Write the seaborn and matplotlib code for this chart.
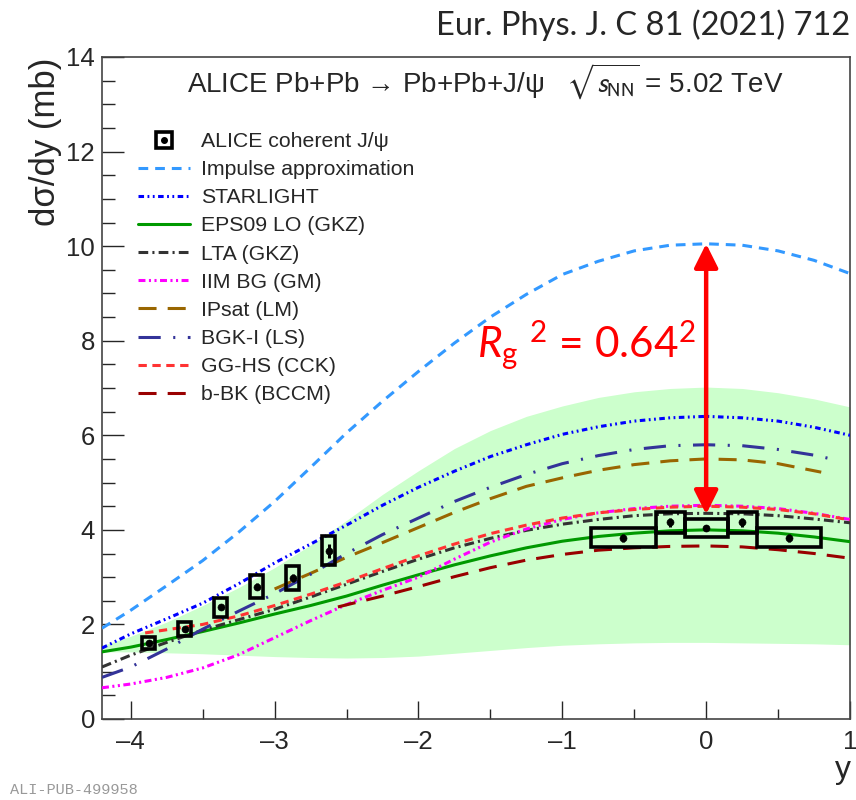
import numpy as np
import pandas as pd
import matplotlib
matplotlib.use("Agg")
import matplotlib.pyplot as plt
import seaborn as sns
from matplotlib.lines import Line2D
from matplotlib.patches import Rectangle
from matplotlib.ticker import MultipleLocator

# ---------------- data ----------------
Q = [-4.2, -4.0, -3.75, -3.5, -3.25, -3.0, -2.75, -2.5, -2.25, -2.0, -1.75,
     -1.5, -1.25, -1.0, -0.75, -0.5, -0.25, 0.0, 0.25, 0.5, 0.75, 1.0]
band_x = Q
band_lo = [1.42, 1.42, 1.40, 1.38, 1.35, 1.32, 1.30, 1.29, 1.30, 1.33, 1.39,
           1.45, 1.51, 1.56, 1.59, 1.61, 1.62, 1.62, 1.61, 1.60, 1.59, 1.57]
band_hi = [1.55, 1.75, 2.05, 2.40, 2.78, 3.20, 3.68, 4.20, 4.75, 5.25, 5.72,
           6.10, 6.40, 6.62, 6.80, 6.92, 6.99, 7.02, 6.99, 6.90, 6.77, 6.60]

impulse_x = Q
impulse_y = [1.92, 2.30, 2.82, 3.35, 3.95, 4.60, 5.32, 6.05, 6.72, 7.35, 7.95,
             8.50, 8.98, 9.40, 9.68, 9.90, 10.02, 10.05, 10.02, 9.90, 9.70, 9.42]
starlight_x = Q
starlight_y = [1.50, 1.80, 2.12, 2.45, 2.86, 3.30, 3.70, 4.10, 4.52, 4.90, 5.24,
               5.55, 5.80, 6.02, 6.18, 6.30, 6.37, 6.40, 6.37, 6.30, 6.17, 6.00]
eps09_x = Q
eps09_y = [1.42, 1.52, 1.68, 1.85, 2.03, 2.22, 2.40, 2.60, 2.83, 3.05, 3.26,
           3.45, 3.62, 3.76, 3.86, 3.93, 3.98, 4.00, 3.98, 3.93, 3.85, 3.75]
lta_x = Q
lta_y = [1.10, 1.35, 1.62, 1.88, 2.10, 2.32, 2.58, 2.85, 3.12, 3.38, 3.62,
         3.82, 3.99, 4.12, 4.22, 4.30, 4.34, 4.35, 4.34, 4.30, 4.23, 4.15]
iim_x = Q
iim_y = [0.66, 0.74, 0.88, 1.08, 1.36, 1.72, 2.08, 2.42, 2.72, 3.00, 3.38,
         3.74, 4.02, 4.22, 4.36, 4.45, 4.50, 4.52, 4.50, 4.45, 4.35, 4.22]
ipsat_x = [-3.0, -2.75, -2.5, -2.25, -2.0, -1.75, -1.5, -1.25, -1.0, -0.75,
           -0.5, -0.25, 0.0, 0.25, 0.5, 0.8]
ipsat_y = [2.75, 3.08, 3.42, 3.73, 4.05, 4.37, 4.66, 4.92, 5.10, 5.26,
           5.38, 5.46, 5.50, 5.48, 5.40, 5.22]
bgk_x = Q[:-2] + [0.75, 0.9]
bgk_y = [0.88, 1.10, 1.48, 1.90, 2.28, 2.65, 3.06, 3.50, 3.90, 4.25, 4.60,
         4.90, 5.17, 5.40, 5.57, 5.70, 5.78, 5.80, 5.78, 5.70, 5.58, 5.48]
gghs_x = [-3.9, -3.5, -3.25, -3.0, -2.75, -2.5, -2.25, -2.0, -1.75, -1.5, -1.25,
          -1.0, -0.75, -0.5, -0.25, 0.0, 0.25, 0.5, 0.75, 1.0]
gghs_y = [1.82, 2.00, 2.18, 2.40, 2.64, 2.90, 3.18, 3.45, 3.70, 3.92, 4.10,
          4.25, 4.36, 4.43, 4.48, 4.50, 4.48, 4.43, 4.34, 4.21]
bbk_x = [-2.56, -2.25, -2.0, -1.75, -1.5, -1.25, -1.0, -0.75, -0.5, -0.25,
         0.0, 0.25, 0.5, 0.75, 1.0]
bbk_y = [2.37, 2.60, 2.80, 3.01, 3.20, 3.36, 3.48, 3.57, 3.62, 3.65,
         3.66, 3.64, 3.58, 3.50, 3.40]

# ALICE data: bin edges, cross section, stat and syst uncertainties
data_lo = [-3.92, -3.67, -3.42, -3.17, -2.92, -2.67, -0.80, -0.35, -0.15, 0.15, 0.35]
data_hi = [-3.83, -3.58, -3.33, -3.08, -2.83, -2.58, -0.35, -0.15, 0.15, 0.35, 0.80]
data_sig = [1.60, 1.90, 2.36, 2.80, 2.98, 3.56, 3.83, 4.16, 4.04, 4.16, 3.83]
data_stat = [0.05, 0.05, 0.06, 0.07, 0.08, 0.15, 0.08, 0.09, 0.07, 0.09, 0.08]
data_syst = [0.13, 0.15, 0.20, 0.24, 0.26, 0.31, 0.20, 0.22, 0.20, 0.22, 0.20]

legend_labels = ["ALICE coherent J/\u03c8", "Impulse approximation", "STARLIGHT",
                 "EPS09 LO (GKZ)", "LTA (GKZ)", "IIM BG (GM)", "IPsat (LM)",
                 "BGK-I (LS)", "GG-HS (CCK)", "b-BK (BCCM)"]

# ---------------- style ----------------
sns.set_theme(style="white")
plt.rcParams["font.family"] = ["Liberation Sans", "DejaVu Sans"]
plt.rcParams["lines.scale_dashes"] = False
plt.rcParams["mathtext.fontset"] = "custom"
plt.rcParams["mathtext.rm"] = "Lato"
plt.rcParams["mathtext.it"] = "Lato:italic"

fig = plt.figure(figsize=(8.56, 8.0), dpi=100)
W, H = 856, 800
ax = fig.add_axes([102 / W, 1 - 719 / H, (850 - 102) / W, (719 - 57) / H])

ax.fill_between(band_x, band_lo, band_hi, color="#ccffcc", lw=0, zorder=1)

curves = [
    (impulse_x, impulse_y, "#3399ff", (0, (7, 5))),
    (starlight_x, starlight_y, "#0000ff", (0, (4, 2.5, 1.3, 2.5, 1.3, 2.5))),
    (eps09_x, eps09_y, "#009900", "-"),
    (lta_x, lta_y, "#333333", (0, (7, 3, 1.5, 3))),
    (iim_x, iim_y, "#ff00ff", (0, (5, 2.5, 1.5, 2.5, 1.5, 2.5))),
    (ipsat_x, ipsat_y, "#996600", (0, (13, 8))),
    (bgk_x, bgk_y, "#333399", (0, (16, 9, 1.5, 9))),
    (gghs_x, gghs_y, "#ff3333", (0, (6, 4))),
    (bbk_x, bbk_y, "#990000", (0, (13, 8))),
]
lw = 2.2
for xs, ys, col, ls in curves:
    df = pd.DataFrame({"y": xs, "s": ys})
    sns.lineplot(data=df, x="y", y="s", color=col, linestyle=ls, lw=lw,
                 ax=ax, zorder=3, sort=False)

# ALICE boxes + points
for lo, hi, s, sy in zip(data_lo, data_hi, data_sig, data_syst):
    ax.add_patch(Rectangle((lo, s - sy), hi - lo, 2 * sy, fill=False,
                           ec="black", lw=2.6, zorder=5))
centers = [(a + b) / 2 for a, b in zip(data_lo, data_hi)]
ax.errorbar(centers, data_sig, yerr=data_stat, fmt="none", ecolor="black",
            elinewidth=2.2, capsize=0, zorder=6)
sns.scatterplot(x=centers, y=data_sig, color="black", s=26, edgecolor="black",
                zorder=7, ax=ax)

# arrow
ax.annotate("", xy=(0, 10.05), xytext=(0, 4.33),
            arrowprops=dict(arrowstyle="<|-|>,head_length=1.2,head_width=0.6",
                            color="#ff0000", lw=3.2, shrinkA=0, shrinkB=0),
            zorder=8)
ax.text(-0.07, 7.9, r"$R_{\mathrm{g}}$ $^{2}$ = 0.64$^{2}$", color="#ff0000",
        fontsize=30.5, ha="right", va="center", family="Lato", zorder=9)

# axes
ax.set_xlim(-4.2, 1.0)
ax.set_ylim(0, 14)
ax.set_xlabel("")
ax.set_ylabel("")
ax.xaxis.set_major_locator(MultipleLocator(1))
ax.xaxis.set_minor_locator(MultipleLocator(0.5))
ax.yaxis.set_major_locator(MultipleLocator(2))
ax.yaxis.set_minor_locator(MultipleLocator(0.5))
ax.tick_params(axis="y", which="major", direction="in", length=16, width=1.0,
               labelsize=18.5, pad=5, left=True, right=False)
ax.tick_params(axis="y", which="minor", direction="in", length=9, width=1.0,
               left=True, right=False)
ax.tick_params(axis="x", which="major", direction="in", length=13, width=1.0,
               labelsize=18.5, pad=8, bottom=True, top=False)
ax.tick_params(axis="x", which="minor", direction="in", length=7, width=1.0,
               bottom=True, top=False)
ax.set_xticklabels(["\u2013" + str(abs(int(t))) if t < 0 else str(int(t))
                    for t in ax.get_xticks()])
for sp in ax.spines.values():
    sp.set_color("#444444")
    sp.set_linewidth(1.2)

# legend
handles = [(Line2D([], [], ls="none", marker="s", ms=11, mfc="none", mec="black", mew=2.6),
            Line2D([], [], ls="none", marker="o", ms=4, color="black"))]
for xs, ys, col, ls in curves:
    handles.append(Line2D([], [], color=col, linestyle=ls, lw=lw))
fig.legend(handles, legend_labels, loc="upper left",
           bbox_to_anchor=(138 / W, 1 - 132 / H), frameon=False, fontsize=15.3,
           handlelength=2.45, handletextpad=0.52, labelspacing=0.43,
           borderpad=0, borderaxespad=0)

# texts
fig.text(187 / W, 1 - 82 / H,
         "ALICE Pb+Pb \u2192 Pb+Pb+J/\u03c8   $\\sqrt{s_{\\mathrm{NN}}}$ = 5.02 TeV",
         fontsize=20, ha="left", va="center", math_fontfamily="stixsans")
fig.text(850 / W, 1 - 25 / H, "Eur. Phys. J. C 81 (2021) 712", fontsize=23.5,
         ha="right", va="center", family="Lato")
fig.text(45 / W, 1 - 58 / H, "d\u03c3/dy (mb)", rotation=90, fontsize=25,
         ha="center", va="top")
fig.text(843 / W, 1 - 770 / H, "y", fontsize=23, ha="center", va="center")
fig.text(10 / W, 1 - 790 / H, "ALI-PUB-499958", fontsize=11, color="#999999",
         ha="left", va="center", family="Liberation Mono")

fig.savefig("out.png", dpi=100)
